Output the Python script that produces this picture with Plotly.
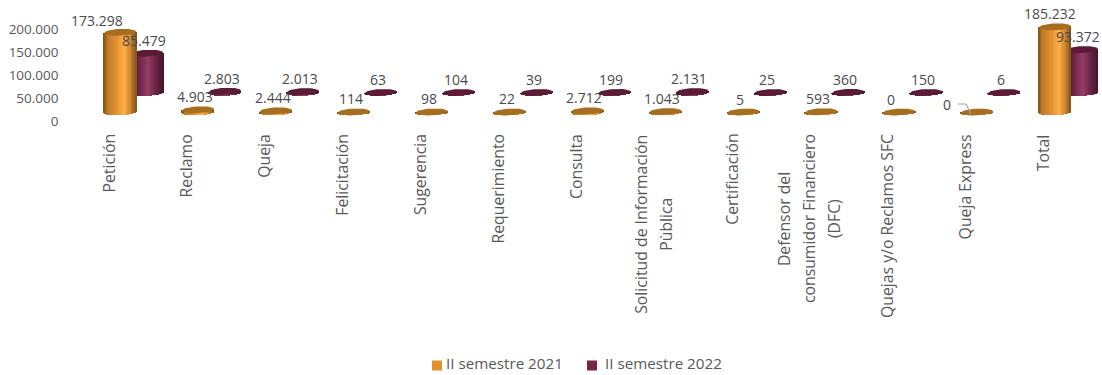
import math
import plotly.graph_objects as go

# Values per category
categories = ["Petición", "Reclamo", "Queja", "Felicitación", "Sugerencia", "Requerimiento", "Consulta",
              "Solicitud de Información<br>Pùblica", "Certificación",
              "Defensor del<br>consumidor Financiero<br>(DFC)", "Quejas y/o Reclamos SFC", "Queja Express", "Total"]
values_2021 = [173298, 4903, 2444, 114, 98, 22, 2712, 1043, 5, 593, 0, 0, 185232]
values_2022 = [85479, 2803, 2013, 63, 104, 39, 199, 2131, 25, 360, 150, 6, 93372]
series_names = ["II semestre 2021", "II semestre 2022"]
series_colors = ["#E28F2E", "#7A2448"]
tick_values = [0, 50000, 100000, 150000, 200000]
tick_labels = ["0", "50.000", "100.000", "150.000", "200.000"]

# Canvas geometry, in pixels
W, H = 1102, 375
STEP = 77.9           # distance between categories
FIRST_X = 120         # first category centre
SERIES_GAP = 27       # horizontal depth shift of the second series
UNITS_PER_PX = 1000 / 0.46
RX, RY, TILT = 16, 3.4, 0.7
STRIPS = 40
TEXT = "#595959"
FONT = "Open Sans"
TICK_ZERO_PX = 121.5


def y_range(zero_px):
    """Axis range that puts value 0 at the given pixel row."""
    return [(zero_px - H) * UNITS_PER_PX, zero_px * UNITS_PER_PX]


def mix(stops, t):
    for (t0, c0), (t1, c1) in zip(stops, stops[1:]):
        if t <= t1:
            f = (t - t0) / (t1 - t0)
            return "rgb(%d,%d,%d)" % tuple(round(a + (b - a) * f) for a, b in zip(c0, c1))
    return "rgb(%d,%d,%d)" % stops[-1][1]


ORANGE = [(0, (125, 80, 20)), (0.12, (190, 122, 40)), (0.4, (225, 145, 50)), (0.65, (255, 174, 72)),
          (0.85, (205, 132, 45)), (1, (130, 85, 25))]
MAROON = [(0, (70, 20, 42)), (0.25, (105, 35, 68)), (0.55, (150, 60, 98)), (0.8, (105, 35, 68)), (1, (72, 20, 44))]
ORANGE_TOP = "#A86E1F"
MAROON_TOP = "#5B1A36"


def add_cylinders(fig, values, shift_px, stops, top_color, yaxis):
    xs = [i + shift_px / STEP for i in range(len(values))]
    strip = 2 / STRIPS
    for s in range(STRIPS):
        u = -1 + strip * (s + 0.5)
        drop = RY * math.sqrt(max(1 - u * u, 0)) * UNITS_PER_PX
        lift = TILT * u * UNITS_PER_PX
        fig.add_trace(go.Bar(
            x=[x + u * RX / STEP for x in xs], y=[v + drop for v in values], base=[lift - drop] * len(values),
            width=(RX * strip + 0.4) / STEP, marker=dict(color=mix(stops, (u + 1) / 2), line_width=0),
            yaxis=yaxis, showlegend=False, hoverinfo="skip"))
    ex, ey = [], []
    for x, v in zip(xs, values):
        for k in range(49):
            a = 2 * math.pi * k / 48
            ex.append(x + RX / STEP * math.cos(a))
            ey.append(v + (RY * math.sin(a) + TILT * math.cos(a)) * UNITS_PER_PX)
        ex.append(None)
        ey.append(None)
    fig.add_trace(go.Scatter(x=ex, y=ey, mode="lines", fill="toself", fillcolor=top_color, line=dict(width=0),
                             yaxis=yaxis, showlegend=False, hoverinfo="skip"))


fig = go.Figure()

# Key below the chart, on the axis that carries the value ticks
KEY_ROW_PX = 365.5
KEY_SWATCH_PX = [437, 592]
KEY_TEXT_PX = [446, 605]
for name, color, swatch_px, text_px in zip(series_names, series_colors, KEY_SWATCH_PX, KEY_TEXT_PX):
    key_y = [(TICK_ZERO_PX - KEY_ROW_PX) * UNITS_PER_PX]
    fig.add_trace(go.Scatter(
        x=[(swatch_px - FIRST_X) / STEP], y=key_y, mode="markers", name=name,
        marker=dict(symbol="square", size=10, color=color), showlegend=False, hoverinfo="skip", cliponaxis=False))
    fig.add_trace(go.Scatter(
        x=[(text_px - FIRST_X) / STEP], y=key_y, mode="text", name=name, text=[name], textposition="middle right",
        textfont=dict(family=FONT, size=15.2, color=TEXT), showlegend=False, hoverinfo="skip", cliponaxis=False))

# Back row first so the front row paints over it
add_cylinders(fig, values_2022, SERIES_GAP, MAROON, MAROON_TOP, "y2")
add_cylinders(fig, values_2021, 0, ORANGE, ORANGE_TOP, "y3")

# Leader line of the label that sits away from its mark
qe = categories.index("Queja Express")
fig.add_trace(go.Scatter(
    x=[qe - 19 / STEP, qe - 11 / STEP, qe - 6 / STEP],
    y=[values_2021[qe] + 8 * UNITS_PER_PX, values_2021[qe] + 8 * UNITS_PER_PX, values_2021[qe] - 2 * UNITS_PER_PX],
    mode="lines", line=dict(color="#A6A6A6", width=1.2), yaxis="y3", showlegend=False, hoverinfo="skip"))

annotations = []

# Value labels: (x shift, y shift) in pixels from the top of the mark
shift_2021 = {0: (-23, 12), 10: (-8, 13), 11: (-30, 8), 12: (-5, 13)}
shift_2022 = {0: (-3, 13), 12: (-4, 13)}
for values, base_shift, yref, shifts in ((values_2021, 0, "y3", shift_2021), (values_2022, SERIES_GAP, "y2", shift_2022)):
    for i, v in enumerate(values):
        dx, dy = shifts.get(i, (-3, 13))
        annotations.append(dict(
            x=i + base_shift / STEP, y=v, xref="x", yref=yref, xshift=dx, yshift=dy,
            text=f"{v:,}".replace(",", "."), showarrow=False, xanchor="center", yanchor="middle",
            font=dict(family=FONT, size=14, color="#4A4A4A")))

# Rotated category labels; wrapped ones are centred on their longest line
LABEL_TOP = 132
LINE_GAP = 25
centre_px = {"Solicitud de Información<br>Pùblica": 224, "Defensor del<br>consumidor Financiero<br>(DFC)": 219}
for i, cat in enumerate(categories):
    lines = cat.split("<br>")
    for n, line in enumerate(lines):
        spread = (n - (len(lines) - 1) / 2) * LINE_GAP
        wrapped = len(lines) > 1
        annotations.append(dict(
            x=i, xref="x", xshift=-12 + spread,
            y=1 - (centre_px[cat] if wrapped else LABEL_TOP) / H, yref="paper",
            yanchor="middle" if wrapped else "top", xanchor="center",
            text=line, textangle=-90, showarrow=False,
            font=dict(family=FONT, size=15.8, color=TEXT)))

fig.update_layout(
    width=W, height=H, margin=dict(l=0, r=0, t=0, b=0), autosize=False,
    paper_bgcolor="white", plot_bgcolor="white", barmode="overlay", bargap=0,
    annotations=annotations,
    xaxis=dict(range=[-FIRST_X / STEP, (W - FIRST_X) / STEP], visible=False, fixedrange=True),
    yaxis=dict(range=y_range(TICK_ZERO_PX), anchor="free", position=58.5 / W, tickvals=tick_values, ticktext=tick_labels,
               showgrid=False, zeroline=False, showline=False, ticks="",
               tickfont=dict(family=FONT, size=13.5, color=TEXT), fixedrange=True),
    yaxis2=dict(range=y_range(92.5), overlaying="y", visible=False, fixedrange=True),
    yaxis3=dict(range=y_range(112), overlaying="y", visible=False, fixedrange=True),
    showlegend=False,
)

fig.write_html("out.html")
